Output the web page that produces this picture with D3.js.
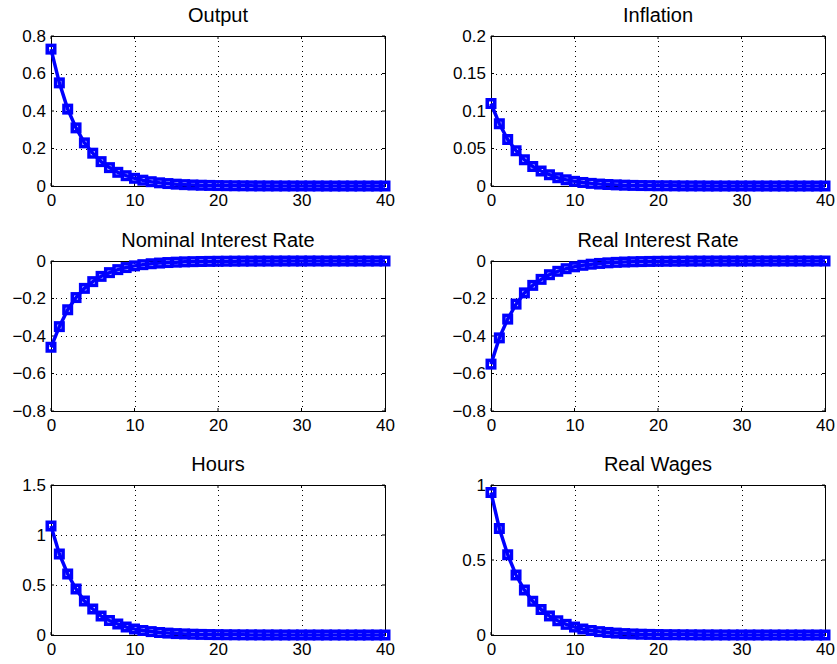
<!DOCTYPE html>
<html><head><meta charset="utf-8">
<script src="https://cdn.jsdelivr.net/npm/d3@7"></script>
<style>body{margin:0;background:#fff}svg{display:block}text{font-family:"Liberation Sans",Arial,sans-serif;fill:#000}</style>
</head><body><svg id="c" width="837" height="664"></svg>
<script>
const periods = d3.range(0, 41);
const titles = ["Output","Inflation","Nominal Interest Rate","Real Interest Rate","Hours","Real Wages"];
const output = [0.73,0.55,0.41,0.31,0.23,0.175,0.13,0.098,0.073,0.055,0.041,0.031,0.023,0.017,0.013,0.0098,0.0073,0.0055,0.0041,0.0031,0.0023,0.0017,0.0013,0.001,0.0007,0.0005,0.0004,0.0003,0.0002,0.0002,0.0001,0.0001,0.0001,0,0,0,0,0,0,0,0];
const inflation = [0.11,0.083,0.062,0.047,0.035,0.026,0.02,0.015,0.011,0.0083,0.0062,0.0047,0.0035,0.0026,0.002,0.0015,0.0011,0.0008,0.0006,0.0005,0.0003,0.0003,0.0002,0.0001,0.0001,0.0001,0,0,0,0,0,0,0,0,0,0,0,0,0,0,0];
const nominalRate = [-0.46,-0.35,-0.26,-0.195,-0.146,-0.11,-0.082,-0.062,-0.046,-0.035,-0.026,-0.0195,-0.0146,-0.011,-0.0082,-0.0062,-0.0046,-0.0035,-0.0026,-0.002,-0.0015,-0.0011,-0.0008,-0.0006,-0.0005,-0.0003,-0.0003,-0.0002,-0.0001,-0.0001,-0.0001,0,0,0,0,0,0,0,0,0,0];
const realRate = [-0.55,-0.41,-0.31,-0.23,-0.17,-0.13,-0.098,-0.073,-0.055,-0.041,-0.031,-0.023,-0.017,-0.013,-0.0098,-0.0073,-0.0055,-0.0041,-0.0031,-0.0023,-0.0017,-0.0013,-0.001,-0.0007,-0.0005,-0.0004,-0.0003,-0.0002,-0.0002,-0.0001,-0.0001,-0.0001,0,0,0,0,0,0,0,0,0];
const hours = [1.09,0.81,0.61,0.46,0.34,0.26,0.19,0.145,0.11,0.08,0.06,0.045,0.034,0.025,0.019,0.014,0.011,0.008,0.006,0.0045,0.0034,0.0025,0.0019,0.0014,0.0011,0.0008,0.0006,0.0005,0.0003,0.0003,0.0002,0.0001,0.0001,0.0001,0.0001,0,0,0,0,0,0];
const realWages = [0.95,0.71,0.535,0.40,0.30,0.225,0.17,0.127,0.095,0.071,0.053,0.04,0.03,0.0225,0.017,0.0127,0.0095,0.0071,0.0053,0.004,0.003,0.0022,0.0017,0.0013,0.0009,0.0007,0.0005,0.0004,0.0003,0.0002,0.0002,0.0001,0.0001,0.0001,0,0,0,0,0,0,0];
const xTicks = [0,10,20,30,40];
const yTicksList = [[0,0.2,0.4,0.6,0.8],[0,0.05,0.1,0.15,0.2],[-0.8,-0.6,-0.4,-0.2,0],[-0.8,-0.6,-0.4,-0.2,0],[0,0.5,1,1.5],[0,0.5,1]];
const yDomains = [[0,0.8],[0,0.2],[-0.8,0],[-0.8,0],[0,1.5],[0,1]];
const series = [output, inflation, nominalRate, realRate, hours, realWages];

const svg = d3.select("#c");
const colX = [51, 491], W = 334;
const rowY = [36, 261, 485], H = 150;
const fmt = v => { let s = String(+v.toFixed(3)); return s.replace("-", "\u2212"); };

series.forEach((vals, i) => {
  const x0 = colX[i % 2], y0 = rowY[Math.floor(i / 2)];
  const g = svg.append("g").attr("transform", `translate(${x0},${y0})`);
  const x = d3.scaleLinear().domain([0, 40]).range([0, W]);
  const y = d3.scaleLinear().domain(yDomains[i]).range([H, 0]);
  const yt = yTicksList[i];
  // grid
  g.selectAll(".gx").data(xTicks.slice(1, -1)).join("line")
    .attr("x1", d => Math.round(x(d)) + 0.5).attr("x2", d => Math.round(x(d)) + 0.5).attr("y1", 0).attr("y2", H)
    .attr("stroke", "#000").attr("stroke-width", 1).attr("stroke-dasharray", "1,4");
  g.selectAll(".gy").data(yt.filter(d => d !== yDomains[i][0] && d !== yDomains[i][1])).join("line")
    .attr("x1", 0).attr("x2", W).attr("y1", d => Math.round(y(d)) + 0.5).attr("y2", d => Math.round(y(d)) + 0.5)
    .attr("stroke", "#000").attr("stroke-width", 1).attr("stroke-dasharray", "1,4");
  // axes
  const ax = d3.axisBottom(x).tickValues(xTicks).tickSize(0).tickPadding(8).tickFormat(d3.format("d"));
  const gxA = g.append("g").attr("transform", `translate(0,${H})`).call(ax);
  const ay = d3.axisLeft(y).tickValues(yt).tickSize(0).tickPadding(5).tickFormat(fmt);
  const gyA = g.append("g").call(ay);
  [gxA, gyA].forEach(a => { a.select(".domain").remove(); a.selectAll("text").attr("font-size", 17).attr("font-family", "Liberation Sans, Arial, sans-serif"); });
  // inward ticks
  g.selectAll(".tx").data(xTicks).join("line").attr("x1", d => x(d)).attr("x2", d => x(d)).attr("y1", H).attr("y2", H - 3).attr("stroke", "#000");
  g.selectAll(".tx2").data(xTicks).join("line").attr("x1", d => x(d)).attr("x2", d => x(d)).attr("y1", 0).attr("y2", 3).attr("stroke", "#000");
  g.selectAll(".ty").data(yt).join("line").attr("x1", 0).attr("x2", 3).attr("y1", d => y(d)).attr("y2", d => y(d)).attr("stroke", "#000");
  g.selectAll(".ty2").data(yt).join("line").attr("x1", W).attr("x2", W - 3).attr("y1", d => y(d)).attr("y2", d => y(d)).attr("stroke", "#000");
  g.append("rect").attr("x", 0.5).attr("y", 0.5).attr("width", W).attr("height", H).attr("fill", "none").attr("stroke", "#000").attr("stroke-width", 1);
  // line
  g.append("path").datum(vals).attr("fill", "none").attr("stroke", "#0000ff").attr("stroke-width", 3.5)
    .attr("d", d3.line().x((d, j) => x(periods[j])).y(d => y(d)));
  g.selectAll(".m").data(vals).join("rect")
    .attr("x", (d, j) => x(periods[j]) - 3.75).attr("y", d => y(d) - 3.75).attr("width", 7.5).attr("height", 7.5)
    .attr("fill", "none").attr("stroke", "#0000ff").attr("stroke-width", 3.5);
  g.append("text").attr("x", W / 2).attr("y", -14).attr("text-anchor", "middle").attr("font-size", 20).text(titles[i]);
});
</script></body></html>
